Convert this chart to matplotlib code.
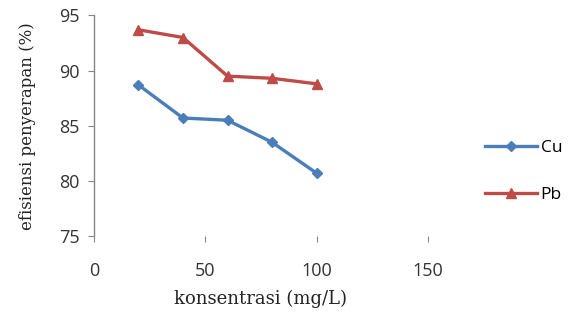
import matplotlib
matplotlib.use("Agg")
import matplotlib.pyplot as plt

konsentrasi = [20, 40, 60, 80, 100]
cu = [88.7, 85.7, 85.5, 83.5, 80.7]
pb = [93.7, 93.0, 89.5, 89.3, 88.8]

x_ticks = [0, 50, 100, 150]
y_ticks = [75, 80, 85, 90, 95]

fig = plt.figure(figsize=(5.76, 3.22), dpi=100)
ax = fig.add_axes([0.163, 0.267, 0.58, 0.685])

ax.plot(konsentrasi, cu, color="#4a7ebb", lw=2.4, marker="D", ms=5.5, label="Cu")
ax.plot(konsentrasi, pb, color="#be4b48", lw=2.4, marker="^", ms=6.5, label="Pb")

ax.set_xlim(0, 150)
ax.set_ylim(75, 95)
ax.set_xticks(x_ticks)
ax.set_yticks(y_ticks)

for s in ("top", "right", "bottom"):
    ax.spines[s].set_visible(False)
ax.spines["left"].set_color("#868686")
ax.spines["left"].set_linewidth(1.0)
ax.tick_params(axis="both", colors="#868686", length=4, width=0.8,
               labelcolor="#333333", labelsize=13)
for lab in ax.get_xticklabels() + ax.get_yticklabels():
    lab.set_family("Open Sans")
ax.tick_params(axis="x", pad=15)
ax.tick_params(axis="y", pad=6)

ax.set_xlabel("konsentrasi (mg/L)", family="DejaVu Serif", fontsize=13,
              color="#222222", labelpad=7)
ax.set_ylabel("efisiensi penyerapan (%)", family="DejaVu Serif", fontsize=12,
              color="#222222", labelpad=17)

leg = fig.legend(loc="center left", bbox_to_anchor=(0.815, 0.467), frameon=False,
                 handlelength=3.0, labelspacing=1.75, handletextpad=0.2,
                 prop={"family": "Open Sans", "size": 12.5})

fig.savefig("out.png", dpi=100)
